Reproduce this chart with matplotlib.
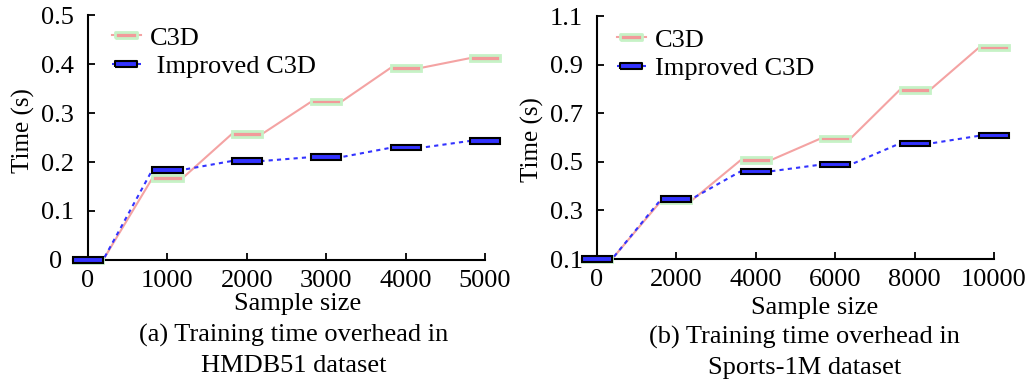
import numpy as np
import matplotlib
matplotlib.use("Agg")
import matplotlib.pyplot as plt
import matplotlib.transforms as mtransforms
from matplotlib.lines import Line2D
from matplotlib.ticker import FuncFormatter

plt.rcParams['font.family'] = ['Liberation Serif', 'DejaVu Serif']
plt.rcParams['font.size'] = 19

# HMDB51
sizes_a = [0, 1000, 2000, 3000, 4000, 5000]
c3d_a = [0.0, 0.167, 0.257, 0.323, 0.392, 0.412]
imp_a = [0.0, 0.184, 0.202, 0.210, 0.229, 0.243]

# Sports-1M
sizes_b = [0, 2000, 4000, 6000, 8000, 10000]
c3d_b = [0.1, 0.340, 0.507, 0.595, 0.795, 0.970]
imp_b = [0.1, 0.347, 0.461, 0.488, 0.575, 0.607]

c3d_line = '#f4a3a3'
c3d_face = '#f29a9a'
c3d_edge = '#c6f2c6'
imp_color = '#3333ff'

rect = [(-1, -0.25), (1, -0.25), (1, 0.25), (-1, 0.25), (-1, -0.25)]


def draw_series(ax, x, y, w, h, lcolor, ls, lw, face, edge, elw, z):
    x = np.asarray(x, float)
    y = np.asarray(y, float)
    # line runs from the right end of one box to the left end of the next
    lx = np.column_stack([x - w, x + w]).ravel()
    ly = np.repeat(y, 2)
    ax.plot(lx, ly, color=lcolor, ls=ls, lw=lw, zorder=z, clip_on=False)
    ax.barh(y, 2 * w, left=x - w, height=h, color=face, edgecolor=edge,
            linewidth=elw, zorder=z + 1, clip_on=False)


fig = plt.figure(figsize=(10.27, 3.81), dpi=100)
ax1 = fig.add_axes([0.0857, 0.3176, 0.3866, 0.643])
ax2 = fig.add_axes([0.5813, 0.3202, 0.3866, 0.6378])

panels = [
    (ax1, sizes_a, c3d_a, imp_a, (0, 0.5), np.arange(0, 0.51, 0.1),
     'C3D', ' Improved C3D', 0.53, 0.529, -0.18, (0.06, 0.955)),
    (ax2, sizes_b, c3d_b, imp_b, (0.1, 1.1), np.arange(0.1, 1.11, 0.2),
     'C3D', 'Improved C3D', 0.49, 0.547, -0.2, (0.05, 0.95)),
]

for (ax, xs, c3d, imp, ylim, yticks, lab1, lab2,
     ylab_y, xlab_x, xlab_y, leg_pos) in panels:
    xmax = xs[-1]
    w = 0.038 * xmax
    h = 0.022 * (ylim[1] - ylim[0])
    draw_series(ax, xs, c3d, w, h, c3d_line, '-', 1.5, c3d_face, c3d_edge, 2.0, 2)
    draw_series(ax, xs, imp, w, h, imp_color, (0, (2, 2)), 1.5, imp_color, 'black', 1.5, 4)

    ax.set_xlim(0, xmax)
    ax.set_ylim(*ylim)
    ax.set_xticks(xs)
    ax.set_yticks(yticks)
    ax.yaxis.set_major_formatter(FuncFormatter(lambda v, p: '%g' % round(v, 2)))
    for s in ['top', 'right']:
        ax.spines[s].set_visible(False)
    for s in ['left', 'bottom']:
        ax.spines[s].set_linewidth(1.5)
    ax.tick_params(direction='in', length=5, width=1.3, labelsize=19)
    ax.tick_params(axis='y', pad=10)
    ax.tick_params(axis='x', pad=7)
    ax.set_ylabel('Time (s)', fontsize=18, va='center', ha='center')
    ax.yaxis.set_label_coords(-0.162, ylab_y)
    ax.set_xlabel('Sample size', fontsize=19, va='center')
    ax.xaxis.set_label_coords(xlab_x, xlab_y)

    handles = [
        Line2D([], [], color=c3d_line, lw=1.5, marker=rect, ms=16,
               mfc=c3d_face, mec=c3d_edge, mew=2),
        Line2D([], [], color=imp_color, lw=1.5, ls=(0, (2, 2)), marker=rect, ms=16,
               mfc=imp_color, mec='black', mew=1.5),
    ]
    ax.legend(handles, [lab1, lab2], loc='upper left', frameon=False,
              bbox_to_anchor=leg_pos, handlelength=1.1, handletextpad=0.35,
              labelspacing=0.2, fontsize=19, borderpad=0, borderaxespad=0)

# the "0" on the left panel sits clear of the box at the origin
fig.canvas.draw()
lab0 = ax1.get_yticklabels()[0]
lab0.set_transform(lab0.get_transform() +
                   mtransforms.ScaledTranslation(-12 / 100, 0, fig.dpi_scale_trans))

fig.text(0.286, 1 - 335 / 381, '(a) Training time overhead in',
         ha='center', va='center', fontsize=19)
fig.text(0.286, 1 - 366 / 381, 'HMDB51 dataset',
         ha='center', va='center', fontsize=19)
fig.text(0.783, 1 - 337 / 381, '(b) Training time overhead in',
         ha='center', va='center', fontsize=19)
fig.text(0.783, 1 - 368 / 381, 'Sports-1M dataset',
         ha='center', va='center', fontsize=19)

fig.savefig('out.png', dpi=100)
